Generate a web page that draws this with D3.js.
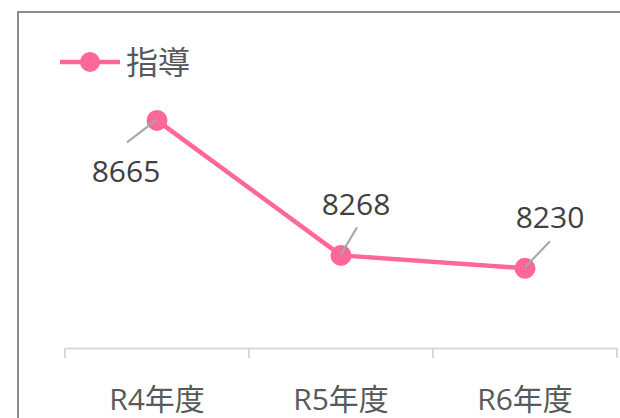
<!DOCTYPE html>
<html>
<head>
<meta charset="utf-8">
<script src="https://cdn.jsdelivr.net/npm/d3@7"></script>
<style>
  body { margin: 0; background: #fff; }
  svg { display: block; }
  text { font-family: "Open Sans", "Noto Sans CJK JP", sans-serif; }
</style>
</head>
<body>
<svg width="620" height="418"></svg>
<script>
const categories = ["R4年度", "R5年度", "R6年度"];
const values = [8665, 8268, 8230];
const seriesName = "指導";
// label offsets from each point (leader line end, label anchor)
const labelOffsets = [
  { lx: -30, ly: 23, tx: -31, ty: 62 },
  { lx: 16, ly: -27, tx: 15, ty: -40 },
  { lx: 25, ly: -26, tx: 25, ty: -40 },
];

const svg = d3.select("svg");
const pink = "#ff6699";

// chart frame
svg.append("rect")
  .attr("x", 18)
  .attr("y", 12)
  .attr("width", 640)
  .attr("height", 440)
  .attr("fill", "none")
  .attr("stroke", "#8c8c8c")
  .attr("stroke-width", 2);

const xScale = d3.scaleBand().domain(categories).range([65, 617]);
const yScale = d3.scaleLinear().domain([8000, 9000]).range([346.5, 6.5]);

const xAxis = d3.axisBottom(xScale).tickSize(0).tickFormat("");
const axisG = svg.append("g")
  .attr("transform", "translate(0,348)")
  .call(xAxis);
axisG.select(".domain").attr("stroke", "#d9d9d9").attr("stroke-width", 2);

// band boundary ticks
const edges = categories.map((c) => xScale(c)).concat([xScale.range()[1]]);
axisG.selectAll("line.edge")
  .data(edges)
  .enter()
  .append("line")
  .attr("class", "edge")
  .attr("x1", (d) => d)
  .attr("x2", (d) => d)
  .attr("y1", 0)
  .attr("y2", 10)
  .attr("stroke", "#d9d9d9")
  .attr("stroke-width", 2);

svg.selectAll("text.cat")
  .data(categories)
  .enter()
  .append("text")
  .attr("class", "cat")
  .attr("x", (d) => xScale(d) + xScale.bandwidth() / 2)
  .attr("y", 410)
  .attr("text-anchor", "middle")
  .attr("font-size", 30)
  .attr("fill", "#595959")
  .text((d) => d);

const cx = (i) => xScale(categories[i]) + xScale.bandwidth() / 2;
const line = d3.line()
  .x((d, i) => cx(i))
  .y((d) => yScale(d));

svg.append("path")
  .datum(values)
  .attr("d", line)
  .attr("fill", "none")
  .attr("stroke", pink)
  .attr("stroke-width", 4.5)
  .attr("stroke-linejoin", "round");

svg.selectAll("circle.pt")
  .data(values)
  .enter()
  .append("circle")
  .attr("class", "pt")
  .attr("cx", (d, i) => cx(i))
  .attr("cy", (d) => yScale(d))
  .attr("r", 10.5)
  .attr("fill", pink);

// leader lines
svg.selectAll("line.leader")
  .data(values)
  .enter()
  .append("line")
  .attr("class", "leader")
  .attr("x1", (d, i) => cx(i))
  .attr("y1", (d) => yScale(d) - 1)
  .attr("x2", (d, i) => cx(i) + labelOffsets[i].lx)
  .attr("y2", (d, i) => yScale(d) - 1 + labelOffsets[i].ly)
  .attr("stroke", "#a6a6a6")
  .attr("stroke-width", 2);

svg.selectAll("text.val")
  .data(values)
  .enter()
  .append("text")
  .attr("class", "val")
  .attr("x", (d, i) => cx(i) + labelOffsets[i].tx)
  .attr("y", (d, i) => yScale(d) + labelOffsets[i].ty)
  .attr("text-anchor", "middle")
  .attr("font-size", 30)
  .attr("fill", "#404040")
  .text((d) => d);

// legend
const legend = svg.append("g").attr("transform", "translate(60,62)");
legend.append("line")
  .attr("x1", 0)
  .attr("x2", 60)
  .attr("y1", 0)
  .attr("y2", 0)
  .attr("stroke", pink)
  .attr("stroke-width", 4.5);
legend.append("circle")
  .attr("cx", 30)
  .attr("cy", 0)
  .attr("r", 10)
  .attr("fill", pink);
legend.append("text")
  .attr("x", 66)
  .attr("y", 12)
  .attr("font-size", 32)
  .attr("fill", "#595959")
  .text(seriesName);
</script>
</body>
</html>
